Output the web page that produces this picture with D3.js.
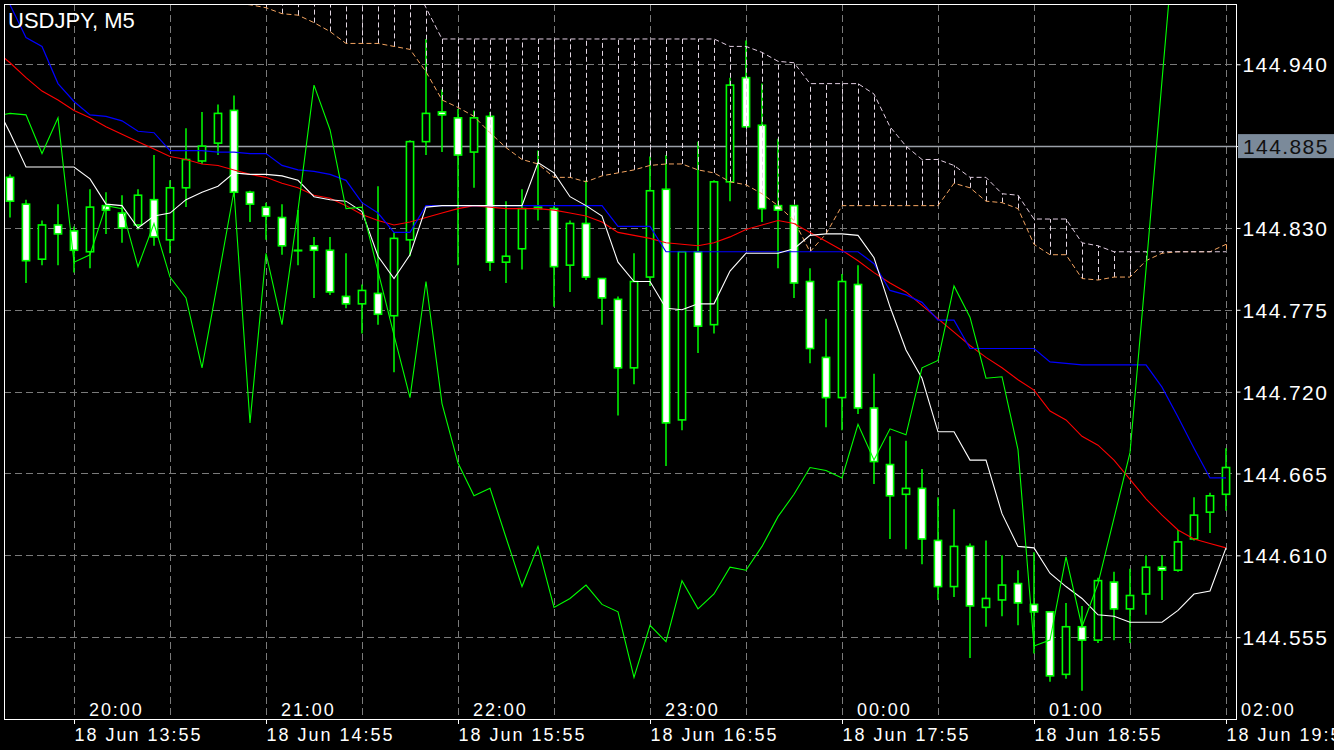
<!DOCTYPE html>
<html><head><meta charset="utf-8">
<script src="https://cdn.jsdelivr.net/npm/d3@7/dist/d3.min.js"></script>
<style>
html,body{margin:0;padding:0;background:#000;overflow:hidden}
svg{display:block}
text{font-family:"Liberation Sans",Arial,sans-serif}
</style></head><body>
<svg id="chart" width="1334" height="750"></svg>
<script>
// ---------------- DATA ----------------
const chartTitle = "USDJPY, M5";
// candles: bar 0 = 18 Jun 13:35 ... bar 76 = 18 Jun 19:55 (M5)
const open = [
 144.864,144.846,144.809,144.832,144.828,144.814,144.845,144.840,144.832,144.849,
 144.822,144.857,144.875,144.887,144.909,144.854,144.844,144.837,144.815,144.818,
 144.815,144.784,144.779,144.786,144.771,144.822,144.888,144.908,144.904,144.881,
 144.905,144.807,144.816,144.844,144.843,144.805,144.833,144.796,144.782,144.736,
 144.797,144.856,144.701,144.814,144.765,144.861,144.931,144.899,144.845,144.845,
 144.794,144.743,144.716,144.792,144.709,144.671,144.651,144.655,144.620,144.589,
 144.616,144.575,144.580,144.591,144.577,144.572,144.530,144.562,144.553,144.592,
 144.574,144.584,144.602,144.600,144.621,144.639,144.651];
const high = [
 144.866,144.849,144.835,144.846,144.831,144.856,144.854,144.852,144.856,144.879,
 144.862,144.897,144.908,144.913,144.919,144.855,144.847,144.846,144.842,144.824,
 144.824,144.813,144.792,144.858,144.827,144.889,144.957,144.923,144.910,144.909,
 144.908,144.848,144.856,144.882,144.845,144.835,144.862,144.796,144.784,144.813,
 144.878,144.879,144.814,144.888,144.862,144.931,144.956,144.927,144.890,144.845,
 144.803,144.769,144.799,144.805,144.732,144.690,144.687,144.668,144.649,144.641,
 144.618,144.620,144.610,144.600,144.612,144.572,144.578,144.576,144.595,144.599,
 144.601,144.610,144.610,144.627,144.649,144.652,144.682];
const low = [
 144.837,144.793,144.805,144.805,144.800,144.803,144.826,144.820,144.829,144.818,
 144.813,144.844,144.873,144.879,144.851,144.834,144.822,144.812,144.805,144.783,
 144.785,144.776,144.759,144.765,144.733,144.811,144.879,144.881,144.805,144.857,
 144.801,144.793,144.802,144.835,144.777,144.787,144.795,144.765,144.704,144.725,
 144.791,144.670,144.694,144.746,144.759,144.848,144.898,144.834,144.803,144.783,
 144.739,144.696,144.694,144.705,144.658,144.621,144.614,144.604,144.580,144.582,
 144.541,144.562,144.569,144.563,144.544,144.525,144.527,144.519,144.551,144.553,
 144.551,144.570,144.580,144.599,144.620,144.625,144.640];
const close = [
 144.848,144.808,144.832,144.826,144.815,144.844,144.842,144.830,144.852,144.824,
 144.857,144.876,144.885,144.907,144.854,144.846,144.838,144.818,144.815,144.815,
 144.787,144.779,144.788,144.772,144.823,144.888,144.907,144.906,144.879,144.904,
 144.807,144.811,144.843,144.843,144.804,144.833,144.797,144.783,144.736,144.794,
 144.855,144.699,144.814,144.764,144.861,144.926,144.898,144.843,144.842,144.793,
 144.749,144.716,144.794,144.709,144.673,144.650,144.655,144.621,144.589,144.616,
 144.576,144.581,144.590,144.578,144.572,144.529,144.562,144.553,144.593,144.574,
 144.583,144.602,144.600,144.619,144.637,144.650,144.669];

// indicator lines: first value = bar -1 (13:30, just left of the window), then bars 0..76
const maRed = [144.950,
 144.941,144.931,144.922,144.916,144.909,144.904,144.898,144.893,144.888,144.883,
 144.878,144.876,144.873,144.872,144.869,144.866,144.864,144.860,144.857,144.852,
 144.850,144.845,144.839,144.835,144.832,144.834,144.837,144.840,144.843,144.845,
 144.844,144.843,144.843,144.843,144.842,144.840,144.838,144.834,144.827,144.825,
 144.823,144.820,144.819,144.818,144.820,144.824,144.829,144.832,144.835,144.833,
 144.827,144.821,144.815,144.808,144.800,144.793,144.787,144.778,144.769,144.760,
 144.751,144.743,144.736,144.728,144.721,144.707,144.701,144.690,144.684,144.674,
 144.661,144.648,144.637,144.627,144.621,144.618,144.615];
const kijunBlue = [145.000,
 144.980,144.958,144.952,144.927,144.915,144.906,144.905,144.902,144.895,144.894,
 144.882,144.882,144.882,144.881,144.881,144.880,144.880,144.872,144.869,144.868,
 144.866,144.862,144.847,144.840,144.827,144.827,144.845,144.845,144.845,144.845,
 144.845,144.845,144.845,144.845,144.845,144.845,144.845,144.845,144.831,144.831,
 144.831,144.814,144.814,144.814,144.814,144.814,144.814,144.814,144.814,144.814,
 144.814,144.814,144.814,144.814,144.806,144.788,144.785,144.780,144.768,144.768,
 144.749,144.749,144.749,144.749,144.749,144.740,144.739,144.738,144.738,144.738,
 144.738,144.738,144.723,144.703,144.682,144.662,144.662];
const tenkanWhite = [144.915,
 144.894,144.871,144.871,144.871,144.871,144.863,144.846,144.845,144.830,144.838,
 144.840,144.849,144.854,144.858,144.867,144.866,144.866,144.865,144.862,144.851,
 144.849,144.848,144.841,144.811,144.796,144.812,144.844,144.845,144.845,144.845,
 144.845,144.845,144.845,144.874,144.867,144.851,144.845,144.838,144.807,144.794,
 144.794,144.776,144.775,144.779,144.779,144.801,144.813,144.813,144.813,144.816,
 144.825,144.826,144.826,144.825,144.810,144.777,144.748,144.729,144.693,144.693,
 144.674,144.674,144.638,144.616,144.615,144.598,144.589,144.581,144.570,144.569,
 144.565,144.565,144.565,144.573,144.584,144.586,144.615];
const chikouGreen = [144.905,
 144.907,144.906,144.880,144.904,144.807,144.812,144.845,144.843,144.804,144.833,
 144.797,144.783,144.736,144.795,144.855,144.699,144.813,144.765,144.842,144.926,
 144.896,144.843,144.844,144.801,144.758,144.716,144.794,144.712,144.672,144.650,
 144.655,144.622,144.589,144.616,144.575,144.581,144.590,144.577,144.572,144.528,
 144.563,144.552,144.593,144.574,144.584,144.602,144.600,144.616,144.636,144.651,
 144.669,144.667,144.662,144.698,144.674,144.695,144.691,144.736,144.741,144.791,
 144.770,144.729,144.730,144.681,144.549,144.553,144.609,144.562,144.591,144.635,
 144.679,144.802,144.929,145.054,null,null,null];
const spanA = [null,
 null,null,null,null,null,null,null,null,null,null,
 null,null,144.989,144.985,144.981,144.980,144.978,144.974,144.973,144.968,
 144.962,144.954,144.954,144.954,144.952,144.950,144.935,144.916,144.911,144.905,
 144.894,144.884,144.876,144.873,144.864,144.864,144.861,144.865,144.867,144.869,
 144.872,144.873,144.873,144.869,144.867,144.861,144.859,144.853,144.845,144.835,
 144.814,144.826,144.845,144.845,144.845,144.845,144.845,144.845,144.845,144.860,
 144.857,144.848,144.847,144.843,144.819,144.812,144.812,144.796,144.795,144.797,
 144.797,144.808,144.813,144.814,144.814,144.814,144.819];
const spanB = [145.000,
 145.000,145.000,145.000,145.000,145.000,145.000,145.000,145.000,145.000,145.000,
 145.000,145.000,145.000,145.000,145.000,145.000,145.000,145.000,145.000,145.000,
 145.000,145.000,145.000,145.000,145.000,145.000,144.978,144.957,144.957,144.957,
 144.957,144.957,144.957,144.957,144.957,144.957,144.957,144.957,144.957,144.957,
 144.957,144.957,144.957,144.957,144.957,144.952,144.952,144.948,144.942,144.941,
 144.927,144.927,144.927,144.927,144.920,144.898,144.885,144.876,144.876,144.872,
 144.864,144.864,144.853,144.852,144.836,144.836,144.836,144.820,144.818,144.814,
 144.814,144.814,144.814,144.814,144.814,144.814,144.814];

const priceTicks = [144.555,144.610,144.665,144.720,144.775,144.830,144.885,144.940];
const markedPrice = 144.885;
const gridBars = [4,10,16,22,28,34,40,46,52,58,64,70,76];
const dateTickBars = [4,16,28,40,52,64,76];
const dateTickLabels = ["18 Jun 13:55","18 Jun 14:55","18 Jun 15:55","18 Jun 16:55","18 Jun 17:55","18 Jun 18:55","18 Jun 19:55"];
const hourTextBars = [5,17,29,41,53,65,77];
const hourTextLabels = ["20:00","21:00","22:00","23:00","00:00","01:00","02:00"];

// ---------------- LAYOUT ----------------
const W = 1334, H = 750;
const plot = {left:4, top:4, right:1237, bottom:719};
const x = d3.scaleLinear().domain([0,76]).range([10,1226]);
const y = d3.scaleLinear().domain([144.5,144.9805]).range([plot.bottom, plot.top]);

const svg = d3.select("#chart");
svg.append("rect").attr("width",W).attr("height",H).attr("fill","#000");

svg.append("defs").append("clipPath").attr("id","clip")
  .append("rect").attr("x",plot.left).attr("y",plot.top)
  .attr("width",plot.right-plot.left).attr("height",plot.bottom-plot.top);

// grid
const grid = svg.append("g").attr("stroke","#7a7a7a").attr("stroke-width",1).attr("stroke-dasharray","7,4").attr("shape-rendering","crispEdges");
grid.selectAll("line.h").data(priceTicks).join("line").attr("class","h")
  .attr("x1",plot.left).attr("x2",plot.right).attr("y1",d=>Math.round(y(d))+0.5).attr("y2",d=>Math.round(y(d))+0.5);
grid.selectAll("line.v").data(gridBars).join("line").attr("class","v")
  .attr("y1",plot.top).attr("y2",plot.bottom).attr("x1",d=>Math.round(x(d))+0.5).attr("x2",d=>Math.round(x(d))+0.5);

const g = svg.append("g").attr("clip-path","url(#clip)");

// marked horizontal price line
g.append("line").attr("x1",plot.left).attr("x2",plot.right)
  .attr("y1",Math.round(y(markedPrice))+0.5).attr("y2",Math.round(y(markedPrice))+0.5)
  .attr("stroke","#9aa0a8").attr("stroke-width",1.6);

// candles
const bars = d3.range(open.length).map(i=>({i,o:open[i],h:high[i],l:low[i],c:close[i]}));
const cg = g.append("g");
cg.selectAll("line.wick").data(bars).join("line").attr("class","wick")
  .attr("x1",d=>x(d.i)).attr("x2",d=>x(d.i)).attr("y1",d=>y(d.h)).attr("y2",d=>y(d.l))
  .attr("stroke","#00ff00").attr("stroke-width",1.5);
cg.selectAll("rect.body").data(bars).join("rect").attr("class","body")
  .attr("x",d=>x(d.i)-3.6).attr("width",7.2)
  .attr("y",d=>y(Math.max(d.o,d.c)))
  .attr("height",d=>Math.max(0.5, Math.abs(y(d.o)-y(d.c))))
  .attr("fill",d=>d.c<d.o?"#ffffff":"#000000")
  .attr("stroke","#00ff00").attr("stroke-width",1.6);

// line indicators (index k -> bar k-1)
const lineGen = d3.line().defined(d=>d!=null).x((d,k)=>x(k-1)).y(d=>y(d));

// cloud hatch
const hatch = d3.range(spanA.length).filter(k=>spanA[k]!=null && spanB[k]!=null);
g.append("g").selectAll("line").data(hatch).join("line")
  .attr("x1",k=>Math.round(x(k-1))+0.5).attr("x2",k=>Math.round(x(k-1))+0.5)
  .attr("y1",k=>y(spanA[k])).attr("y2",k=>y(spanB[k]))
  .attr("stroke",k=>spanB[k]>=spanA[k]?"#e2d6e2":"#f4a460").attr("stroke-width",1).attr("stroke-dasharray","5,3");

g.append("path").attr("d",lineGen(spanA)).attr("fill","none").attr("stroke","#f4a460").attr("stroke-width",1).attr("stroke-dasharray","5,3");
g.append("path").attr("d",lineGen(spanB)).attr("fill","none").attr("stroke","#e0cce0").attr("stroke-width",1).attr("stroke-dasharray","5,3");

g.append("path").attr("d",lineGen(maRed)).attr("fill","none").attr("stroke","#ff0000").attr("stroke-width",1.1);
g.append("path").attr("d",lineGen(kijunBlue)).attr("fill","none").attr("stroke","#0000ff").attr("stroke-width",1.2);
g.append("path").attr("d",lineGen(tenkanWhite)).attr("fill","none").attr("stroke","#ffffff").attr("stroke-width",1.1);
g.append("path").attr("d",lineGen(chikouGreen)).attr("fill","none").attr("stroke","#00ff00").attr("stroke-width",1.1);

// frame
svg.append("rect").attr("x",plot.left+0.5).attr("y",plot.top+0.5)
  .attr("width",plot.right-plot.left-1).attr("height",plot.bottom-plot.top)
  .attr("fill","none").attr("stroke","#ffffff").attr("stroke-width",1).attr("shape-rendering","crispEdges");

// price axis
const yAxis = d3.axisRight(y).tickValues(priceTicks).tickFormat(d3.format(".3f")).tickSize(4).tickSizeOuter(0).tickPadding(2);
const ya = svg.append("g").attr("transform",`translate(${plot.right-0.5},0)`).call(yAxis);
ya.select(".domain").remove();
ya.selectAll("line").attr("stroke","#fff");
ya.selectAll("text").attr("fill","#fff").style("font-size","21px").style("letter-spacing","1.4px").attr("dy","0.36em");

// highlighted label
const my = y(markedPrice);
svg.append("rect").attr("x",plot.right+1).attr("y",my-12).attr("width",W-plot.right-1).attr("height",24).attr("fill","#7b8a9a");
svg.append("text").attr("x",plot.right+6).attr("y",my).attr("dy","0.36em")
  .attr("fill","#111").style("font-size","21px").style("letter-spacing","1.4px").text(d3.format(".3f")(markedPrice));

// time axis
const xAxis = d3.axisBottom(x).tickValues(dateTickBars).tickFormat((d,i)=>dateTickLabels[i]).tickSize(5).tickSizeOuter(0).tickPadding(3);
const xa = svg.append("g").attr("transform",`translate(0,${plot.bottom})`).call(xAxis);
xa.select(".domain").remove();
xa.selectAll("line").attr("stroke","#fff");
xa.selectAll("text").attr("fill","#fff").attr("text-anchor","start").attr("x",0).attr("y",7).attr("dy","0.85em")
  .style("font-size","18px").style("letter-spacing","2px");

// hour text objects
svg.append("g").selectAll("text").data(hourTextBars).join("text")
  .attr("x",b=>x(b)-1).attr("y",plot.bottom-3)
  .attr("fill","#fff").style("font-size","18px").style("letter-spacing","1.9px")
  .text((b,i)=>hourTextLabels[i]);

// title
svg.append("text").attr("x",8).attr("y",28).attr("fill","#fff").style("font-size","22px").text(chartTitle);
</script>
</body></html>
